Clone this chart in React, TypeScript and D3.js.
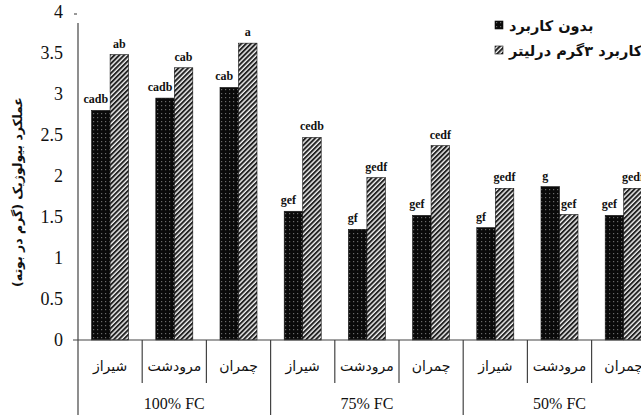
import * as d3 from 'd3';
import { useRef, useEffect } from 'react';

// treatment groups and cultivars
const groups = ['100% FC', '75% FC', '50% FC'];
const cultivars = ['شیراز', 'مرودشت', 'چمران'];
const series = ['بدون کاربرد', 'کاربرد ۳گرم درلیتر'];

// values per group, in cultivar order
const noApply = [2.8, 2.95, 3.08, 1.57, 1.35, 1.52, 1.37, 1.87, 1.52];
const apply3g = [3.48, 3.32, 3.62, 2.47, 1.98, 2.37, 1.85, 1.53, 1.85];

// significance letters
const lettersNo = ['cadb', 'cadb', 'cab', 'gef', 'gf', 'gef', 'gf', 'g', 'gef'];
const letters3g = ['ab', 'cab', 'a', 'cedb', 'gedf', 'cedf', 'gedf', 'gef', 'gedf'];

const yTicks = [0, 0.5, 1, 1.5, 2, 2.5, 3, 3.5, 4];
const yTitle = 'عملکرد بیولوژیک (گرم در بوته)';

const SERIF = '"Liberation Serif", "Times New Roman", Times, serif';
const FA = '"DejaVu Sans", sans-serif';

export default function App() {
    const ref = useRef<SVGSVGElement>(null);

    useEffect(() => {
        const width = 641;
        const svg = d3.select(ref.current);
        svg.selectAll('*').remove();

        const x0 = 78;
        const catW = 64.2;
        const keys = groups.flatMap(g => cultivars.map(c => g + '|' + c));

        const xScale = d3.scaleBand()
            .domain(keys)
            .range([x0, x0 + catW * keys.length])
            .padding(0);

        const xInner = d3.scaleBand()
            .domain(series)
            .range([0, xScale.bandwidth()])
            .paddingInner(0)
            .paddingOuter(0.735);

        const yScale = d3.scaleLinear()
            .domain([0, 4])
            .range([340, 12]);

        // patterns
        const defs = svg.append('defs');
        const dots = defs.append('pattern')
            .attr('id', 'dots')
            .attr('patternUnits', 'userSpaceOnUse')
            .attr('width', 4).attr('height', 4);
        dots.append('rect').attr('width', 4).attr('height', 4).attr('fill', '#0a0a0a');
        dots.append('rect').attr('x', 1).attr('y', 1).attr('width', 1.2).attr('height', 1.2).attr('fill', '#6a6a6a');

        const hatch = defs.append('pattern')
            .attr('id', 'hatch')
            .attr('patternUnits', 'userSpaceOnUse')
            .attr('width', 3.4).attr('height', 3.4)
            .attr('patternTransform', 'rotate(45)');
        hatch.append('rect').attr('width', 3.4).attr('height', 3.4).attr('fill', '#f4f4f4');
        hatch.append('rect').attr('width', 2).attr('height', 3.4).attr('fill', '#222');

        const fills = ['url(#dots)', 'url(#hatch)'];

        const rows = keys.map((k, i) => ({ key: k, vals: [noApply[i], apply3g[i]], lets: [lettersNo[i], letters3g[i]] }));

        // bars
        const barG = svg.append('g');
        rows.forEach(r => {
            series.forEach((s, j) => {
                barG.append('rect')
                    .attr('x', xScale(r.key)! + xInner(s)!)
                    .attr('y', yScale(r.vals[j]))
                    .attr('width', xInner.bandwidth())
                    .attr('height', yScale(0) - yScale(r.vals[j]))
                    .attr('fill', fills[j])
                    .attr('stroke', '#111')
                    .attr('stroke-width', 0.6);
            });
        });

        // letters above bars
        const labG = svg.append('g');
        rows.forEach(r => {
            series.forEach((s, j) => {
                const cx = xScale(r.key)! + xInner(s)! + xInner.bandwidth() / 2 + (j === 0 ? -5 : 0);
                const g = labG.append('g');
                const t = g.append('text')
                    .attr('x', cx)
                    .attr('y', yScale(r.vals[j]) - 7)
                    .attr('text-anchor', 'middle')
                    .attr('font-family', SERIF)
                    .attr('font-weight', 'bold')
                    .attr('font-size', 12)
                    .attr('fill', '#111')
                    .text(r.lets[j]);
                const bb = (t.node() as SVGTextElement).getBBox();
                g.insert('rect', 'text')
                    .attr('x', bb.x - 1).attr('y', bb.y)
                    .attr('width', bb.width + 2).attr('height', bb.height)
                    .attr('fill', '#fff');
            });
        });

        // y axis
        const yAxis = d3.axisLeft(yScale).tickValues(yTicks).tickSize(0).tickPadding(15)
            .tickFormat(d => String(d));
        const ay = svg.append('g')
            .attr('transform', `translate(${x0}, 0)`)
            .call(yAxis)
            .attr('font-family', SERIF)
            .attr('font-size', 18);
        ay.select('.domain').remove();
        ay.selectAll('text').attr('fill', '#111');

        svg.append('line')
            .attr('x1', x0 - 4).attr('x2', x0 - 1)
            .attr('y1', yScale(4) + 2).attr('y2', yScale(4) + 2)
            .attr('stroke', '#333');

        const axisColor = '#444';
        svg.append('line')
            .attr('x1', x0).attr('x2', x0)
            .attr('y1', 23).attr('y2', 415)
            .attr('stroke', axisColor).attr('stroke-width', 1.2);
        svg.append('line')
            .attr('x1', x0 - 5).attr('x2', width)
            .attr('y1', yScale(0)).attr('y2', yScale(0))
            .attr('stroke', axisColor).attr('stroke-width', 1.2);

        // category separators and labels
        keys.forEach((k, i) => {
            const right = xScale(k)! + xScale.bandwidth();
            const isGroupEnd = (i + 1) % cultivars.length === 0;
            svg.append('line')
                .attr('x1', right).attr('x2', right)
                .attr('y1', yScale(0)).attr('y2', isGroupEnd ? 415 : 383)
                .attr('stroke', axisColor).attr('stroke-width', 1.2);
            svg.append('text')
                .attr('x', xScale(k)! + xScale.bandwidth() / 2)
                .attr('y', 371)
                .attr('text-anchor', 'middle')
                .attr('font-family', FA)
                .attr('font-size', 14)
                .attr('fill', '#111')
                .text(cultivars[i % cultivars.length]);
        });

        groups.forEach((g, gi) => {
            const first = xScale(keys[gi * 3])!;
            svg.append('text')
                .attr('x', first + xScale.bandwidth() * 1.5)
                .attr('y', 409)
                .attr('text-anchor', 'middle')
                .attr('font-family', SERIF)
                .attr('font-size', 16)
                .attr('fill', '#111')
                .text(g);
        });

        // y title
        svg.append('text')
            .attr('transform', `translate(22, ${192}) rotate(-90)`)
            .attr('text-anchor', 'middle')
            .attr('font-family', FA)
            .attr('font-weight', 'bold')
            .attr('font-size', 12.5)
            .attr('fill', '#111')
            .text(yTitle);

        // legend
        const leg = svg.append('g').attr('transform', 'translate(495, 21)');
        series.forEach((s, j) => {
            leg.append('rect')
                .attr('x', 0).attr('y', j * 25)
                .attr('width', 8).attr('height', 8)
                .attr('fill', fills[j])
                .attr('stroke', '#111').attr('stroke-width', 0.6);
            leg.append('text')
                .attr('x', 14).attr('y', j * 25 + 10)
                .attr('font-family', FA)
                .attr('font-weight', 'bold')
                .attr('font-size', 14.5)
                .attr('fill', '#111')
                .text(s);
        });
    }, []);

    return (
        <svg ref={ref} width={641} height={418}
            style={{ position: 'absolute', left: 0, top: 0, background: '#fff' }} />
    );
}
